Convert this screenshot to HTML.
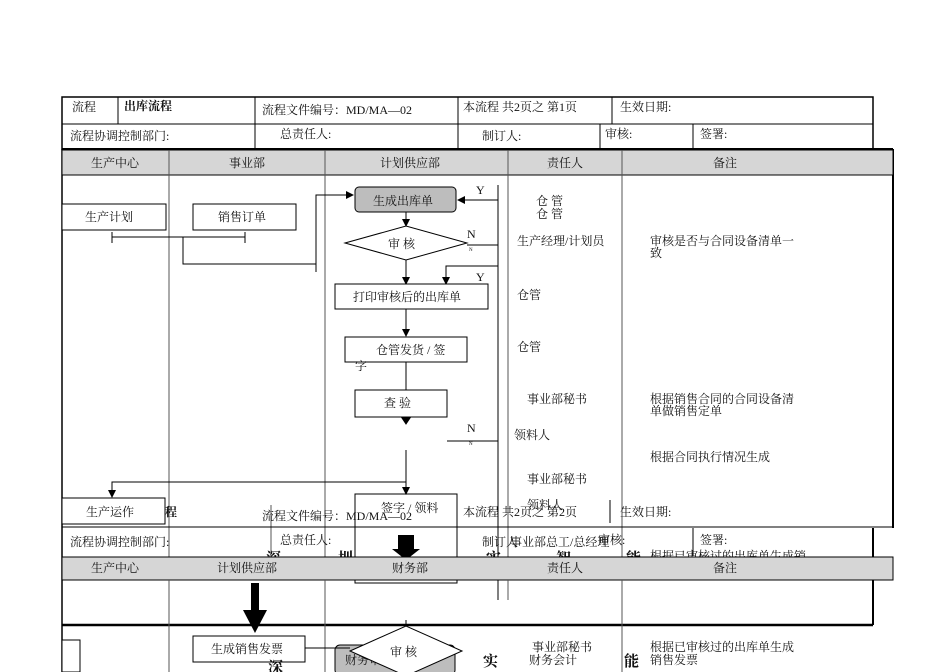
<!DOCTYPE html>
<html><head><meta charset="utf-8"><style>
body{margin:0;background:#fff;}
svg{display:block;font-family:"Liberation Serif","Noto Serif CJK SC","Noto Sans CJK SC",serif;}
text{font-size:12px;fill:#111;}
.s{font-size:5px;}
.b{font-size:15px;font-weight:bold;}
</style></head><body>
<svg width="950" height="672" viewBox="0 0 950 672" xmlns="http://www.w3.org/2000/svg">
<defs><marker id="a" markerWidth="8" markerHeight="8" refX="7" refY="4" orient="auto" markerUnits="userSpaceOnUse"><path d="M0,0 L8,4 L0,8 z" fill="#000"/></marker></defs>
<g stroke="#000" fill="none" stroke-width="1">
<rect x="62" y="97" width="811" height="52" stroke-width="1.5"/>
<line x1="62" y1="124" x2="873" y2="124"/>
<line x1="118" y1="97" x2="118" y2="124"/>
<line x1="255" y1="97" x2="255" y2="149"/>
<line x1="458" y1="97" x2="458" y2="149"/>
<line x1="612" y1="97" x2="612" y2="124"/>
<line x1="600" y1="124" x2="600" y2="149"/>
<line x1="693" y1="124" x2="693" y2="149"/>
<line x1="62" y1="149" x2="893" y2="149" stroke-width="2"/>
<line x1="893" y1="149" x2="893" y2="528" stroke-width="2"/>
<line x1="873" y1="528" x2="873" y2="625" stroke-width="2"/>
<line x1="62" y1="149" x2="62" y2="672" stroke-width="1.5"/>
</g>
<rect x="62" y="150" width="831" height="25" fill="#d6d6d6" stroke="#000"/>
<g stroke="#555" stroke-width="1">
<line x1="169" y1="150" x2="169" y2="672"/>
<line x1="325" y1="150" x2="325" y2="672"/>
<line x1="508" y1="150" x2="508" y2="600"/>
<line x1="622" y1="150" x2="622" y2="672"/>
</g>
<g text-anchor="middle">
<text x="115" y="167">生产中心</text><text x="247" y="167">事业部</text><text x="410" y="167">计划供应部</text><text x="565" y="167">责任人</text><text x="725" y="167">备注</text>
</g>
<text x="72" y="111">流程</text><text x="124" y="110" font-weight="bold">出库流程</text>
<text x="262" y="114">流程文件编号：MD/MA—02</text><text x="463" y="111">本流程 共2页之 第1页</text><text x="620" y="111">生效日期:</text>
<text x="70" y="140">流程协调控制部门:</text><text x="280" y="138">总责任人:</text><text x="482" y="140">制订人:</text><text x="605" y="138">审核:</text><text x="700" y="138">签署:</text>

<g stroke="#000" fill="none">
<rect x="62" y="204" width="104" height="26" fill="#fff"/>
<rect x="193" y="204" width="103" height="26" fill="#fff"/>
<polyline points="112,237 245,237"/><line x1="112" y1="232" x2="112" y2="243"/><line x1="245" y1="232" x2="245" y2="243"/>
<polyline points="183,237 183,264 316,264"/>
<polyline points="316,272 316,195 353,195" marker-end="url(#a)"/>
<rect x="355" y="187" width="101" height="25" rx="4" fill="#bdbdbd"/>
<polyline points="498,185 498,200 458,200" marker-end="url(#a)"/>
<line x1="498" y1="185" x2="498" y2="600"/>
<line x1="406" y1="212" x2="406" y2="226" marker-end="url(#a)"/>
<polygon points="345,243 406,226 467,243 406,260" fill="#fff"/>
<line x1="467" y1="245" x2="498" y2="245"/>
<line x1="406" y1="260" x2="406" y2="284" marker-end="url(#a)"/>
<polyline points="498,266 446,266 446,284" marker-end="url(#a)"/>
<rect x="335" y="284" width="153" height="25" fill="#fff"/>
<line x1="406" y1="309" x2="406" y2="336" marker-end="url(#a)"/>
<rect x="345" y="337" width="122" height="25" fill="#fff"/>
<line x1="406" y1="362" x2="406" y2="390"/>
<rect x="355" y="390" width="92" height="27" fill="#fff"/>
<path d="M402,418 L410,418 L406,424 z" fill="#000"/>
<line x1="447" y1="441" x2="498" y2="441"/>
<line x1="406" y1="450" x2="406" y2="494" marker-end="url(#a)"/>
<polyline points="406,482 112,482 112,497" marker-end="url(#a)"/>
<rect x="355" y="494" width="102" height="89" fill="none"/>
<rect x="62" y="498" width="103" height="26" fill="#fff"/>
<line x1="271" y1="505" x2="271" y2="560" stroke="#555"/>
<line x1="610" y1="500" x2="610" y2="523"/>
<line x1="62" y1="527" x2="893" y2="527"/>
<line x1="693" y1="528" x2="693" y2="556"/>
<line x1="62" y1="625" x2="873" y2="625" stroke-width="2.5"/>
</g>
<text x="373" y="205">生成出库单</text>
<text x="476" y="194">Y</text>
<text x="388" y="248">审  核</text>
<text x="467" y="238">N</text><text x="469" y="251" class="s">N</text>
<text x="476" y="281">Y</text>
<text x="353" y="301">打印审核后的出库单</text>
<text x="376" y="354">仓管发货 / 签</text><text x="355" y="370">字</text>
<text x="384" y="407">查  验</text>
<text x="467" y="432">N</text><text x="469" y="445" class="s">N</text>
<text x="85" y="221">生产计划</text><text x="218" y="221">销售订单</text>
<text x="86" y="516">生产运作</text><text x="165" y="516" font-weight="bold">程</text>
<text x="536" y="205">仓 管</text><text x="536" y="218">仓 管</text>
<text x="517" y="245">生产经理/计划员</text>
<text x="650" y="245">审核是否与合同设备清单一</text><text x="650" y="257">致</text>
<text x="517" y="299">仓管</text><text x="517" y="351">仓管</text>
<text x="527" y="403">事业部秘书</text>
<text x="650" y="403">根据销售合同的合同设备清</text><text x="650" y="415">单做销售定单</text>
<text x="514" y="439">领料人</text>
<text x="650" y="461">根据合同执行情况生成</text>
<text x="527" y="483">事业部秘书</text>
<text x="527" y="509">领料人</text>
<text x="381" y="512">签字 / 领料</text>
<text x="262" y="520">流程文件编号：MD/MA—02</text><text x="463" y="516">本流程 共2页之 第2页</text><text x="620" y="516">生效日期:</text>
<text x="70" y="546">流程协调控制部门:</text><text x="280" y="544">总责任人:</text><text x="482" y="546">制订人</text><text x="510" y="546">事业部总工/总经理</text><text x="598" y="544">审核:</text><text x="700" y="544">签署:</text>
<text x="266" y="563" class="b">深</text><text x="338" y="563" class="b">圳</text><text x="486" y="563" class="b">实</text><text x="556" y="563" class="b">智</text><text x="626" y="563" class="b">能</text>
<text x="650" y="560">根据已审核过的出库单生成销</text>
<rect x="398" y="535" width="16" height="15" fill="#000"/>
<path d="M392,549 L420,549 L406,560 z" fill="#000"/>
<rect x="62" y="557" width="831" height="23" fill="#d6d6d6" stroke="#000"/>
<g text-anchor="middle">
<text x="115" y="572">生产中心</text><text x="247" y="572">计划供应部</text><text x="410" y="572">财务部</text><text x="565" y="572">责任人</text><text x="725" y="572">备注</text>
</g>
<g stroke="#555"><line x1="169" y1="580" x2="169" y2="672"/><line x1="325" y1="580" x2="325" y2="672"/><line x1="622" y1="580" x2="622" y2="672"/><line x1="508" y1="580" x2="508" y2="600"/></g>
<rect x="251" y="583" width="8" height="28" fill="#000"/>
<path d="M243,610 L267,610 L255,633 z" fill="#000"/>
<rect x="62" y="640" width="18" height="32" fill="#fff" stroke="#000"/>
<rect x="335" y="645" width="120" height="30" rx="5" fill="#bdbdbd" stroke="#000"/>
<text x="345" y="664">财务审核发票</text>
<line x1="305" y1="648" x2="350" y2="648" stroke="#000"/>
<rect x="193" y="636" width="112" height="26" fill="#fff" stroke="#000"/>
<text x="211" y="653">生成销售发票</text>
<polygon points="350,651 406,626 462,651 406,676" fill="#fff" stroke="#000"/>
<line x1="406" y1="620" x2="406" y2="626" stroke="#000"/>
<text x="390" y="656">审  核</text>
<text x="532" y="651">事业部秘书</text><text x="529" y="664">财务会计</text>
<text x="483" y="666" class="b">实</text><text x="624" y="666" class="b">能</text><text x="268" y="672" class="b">深</text>
<text x="650" y="651">根据已审核过的出库单生成</text><text x="650" y="664">销售发票</text>
</svg>
</body></html>
